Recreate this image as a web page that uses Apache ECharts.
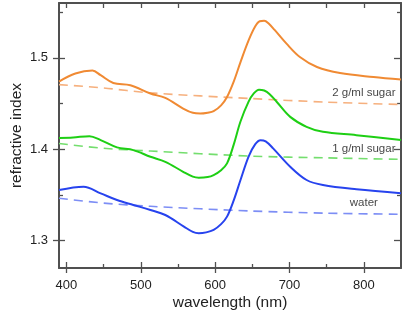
<!DOCTYPE html>
<html>
<head>
<meta charset="utf-8">
<script src="https://cdn.jsdelivr.net/npm/echarts@6/dist/echarts.min.js"></script>
<style>html,body{margin:0;padding:0;background:#fff}#c{width:415px;height:313px}</style>
</head>
<body>
<div id="c"></div>
<script>
// wavelength (nm) / refractive index readings
const sugar2Solid = [[390,1.474],[412,1.4828],[435,1.486],[446,1.481],[463,1.4725],[486,1.470],[513,1.4609],[533,1.4561],[557,1.4445],[570,1.4398],[580,1.4391],[590,1.4400],[598,1.4416],[608,1.4480],[616,1.4572],[625,1.474],[634,1.495],[645,1.519],[654,1.5345],[660,1.5400],[666,1.5405],[672,1.5375],[680,1.5305],[696,1.5155],[714,1.5009],[737,1.490],[768,1.4834],[813,1.479],[850,1.4762]];
const sugar1Solid = [[390,1.4124],[409,1.4129],[431,1.4143],[446,1.410],[468,1.402],[490,1.399],[513,1.3917],[533,1.3862],[557,1.3753],[570,1.3700],[578,1.3688],[590,1.3695],[598,1.3717],[608,1.3770],[616,1.3845],[625,1.405],[634,1.430],[645,1.452],[652,1.4610],[659,1.4652],[666,1.4642],[673,1.4605],[683,1.4517],[701,1.4354],[723,1.4245],[745,1.419],[790,1.4154],[850,1.410]];
const waterSolid = [[390,1.3553],[423,1.359],[446,1.3517],[468,1.3444],[490,1.339],[513,1.3335],[533,1.328],[558,1.3153],[570,1.3095],[578,1.3081],[588,1.3090],[598,1.3117],[608,1.3180],[616,1.3262],[625,1.344],[634,1.366],[645,1.392],[654,1.4055],[661,1.4098],[668,1.4085],[678,1.4009],[701,1.3808],[723,1.3663],[745,1.3608],[790,1.3561],[850,1.3518]];
const sugar2Dashed = [[390,1.4707],[450,1.467],[513,1.4616],[647,1.4555],[750,1.4515],[850,1.4489]];
const sugar1Dashed = [[390,1.4063],[450,1.401],[513,1.398],[647,1.3925],[750,1.3905],[850,1.3889]];
const waterDashed = [[390,1.3463],[450,1.341],[513,1.3375],[647,1.3324],[750,1.330],[850,1.3288]];
const curveLabels = [[800,1.4616,'2 g/ml sugar'],[800,1.4001,'1 g/ml sugar'],[800,1.3412,'water']];
const xMajor = [400,500,600,700,800];
const xMinor = [450,550,650,750];
const yMajor = [1.3,1.4,1.5];
const yMinor = [1.35,1.45,1.55];

const FONT = 'Liberation Sans, Arial, sans-serif';
const AX = '#505050';
const XMIN = 390, XMAX = 850, YMIN = 1.27, YMAX = 1.56;

function xAx(pos, showLine, ticks, inside, len, labels) {
  return {
    type:'value', min:XMIN, max:XMAX, position:pos, gridIndex:0,
    splitLine:{show:false},
    axisLine:{show:showLine, onZero:false, lineStyle:{color:AX, width:2}},
    axisTick:{show:true, inside:inside, length:len, customValues:ticks, lineStyle:{color:AX, width:1.3}},
    axisLabel: labels ? {show:true, customValues:xMajor, margin:11, color:'#222', fontSize:13, fontFamily:FONT} : {show:false}
  };
}
function yAx(pos, showLine, ticks, inside, len, labels) {
  return {
    type:'value', min:YMIN, max:YMAX, position:pos, gridIndex:0,
    splitLine:{show:false},
    axisLine:{show:showLine, onZero:false, lineStyle:{color:AX, width:2}},
    axisTick:{show:true, inside:inside, length:len, customValues:ticks, lineStyle:{color:AX, width:1.3}},
    axisLabel: labels ? {show:true, customValues:yMajor, margin:11, color:'#222', fontSize:13, fontFamily:FONT, formatter:v=>v.toFixed(1)} : {show:false}
  };
}

const xAxes = [
  Object.assign(xAx('bottom', true, xMajor, false, 5, true), {name:'wavelength (nm)', nameLocation:'middle', nameGap:27, nameMoveOverlap:false, nameTextStyle:{fontSize:15.5, color:'#222', fontFamily:FONT}}),
  xAx('bottom', false, xMajor, true, 6, false),
  xAx('bottom', false, xMinor, true, 4, false),
  xAx('top', true, xMajor.concat(xMinor), true, 5, false)
];
const yAxes = [
  Object.assign(yAx('left', true, yMajor, false, 6, true), {name:'refractive index', nameLocation:'middle', nameGap:34, nameMoveOverlap:false, nameTextStyle:{fontSize:15.5, color:'#222', fontFamily:FONT}}),
  yAx('left', false, yMajor, true, 6, false),
  yAx('left', false, yMinor, true, 4, false),
  yAx('right', true, yMajor, true, 7, false),
  yAx('right', false, yMinor, true, 4, false)
];

function solid(data, color) {
  return {type:'line', data:data, smooth:0.35, symbol:'none', xAxisIndex:0, yAxisIndex:0, lineStyle:{color:color, width:2}, z:3};
}
function dashed(data, color) {
  return {type:'line', data:data, smooth:0.3, symbol:'none', xAxisIndex:0, yAxisIndex:0, lineStyle:{color:color, width:1.6, type:[9,6]}, z:2};
}

const chart = echarts.init(document.getElementById('c'), null, {renderer:'canvas'});
chart.setOption({
  animation:false,
  backgroundColor:'#fff',
  grid:{left:59, right:14, top:3, bottom:45, containLabel:false, outerBoundsMode:'none'},
  xAxis:xAxes,
  yAxis:yAxes,
  series:[
    dashed(sugar2Dashed, '#F6B07E'),
    dashed(sugar1Dashed, '#74DE6E'),
    dashed(waterDashed, '#7D8EF5'),
    solid(sugar2Solid, '#F08A33'),
    solid(sugar1Solid, '#1ECF14'),
    solid(waterSolid, '#2743EE'),
    {type:'scatter', data:curveLabels, symbolSize:0, xAxisIndex:0, yAxisIndex:0, z:5,
     label:{show:true, position:'inside', formatter:p=>p.value[2], color:'#111', fontSize:11.5, fontFamily:FONT}}
  ]
});
</script>
</body>
</html>
